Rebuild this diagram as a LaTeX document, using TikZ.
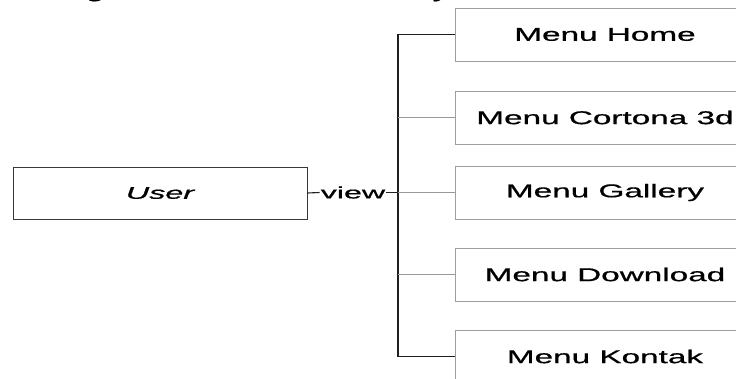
\documentclass[tikz,border=0pt]{standalone}
\usepackage{fontspec}
\setmainfont[FakeBold=0.6]{Liberation Sans}
\newfontfamily\heavyfont[FakeBold=0.6]{Liberation Sans}
\newcommand{\wide}[2][1.8]{\scalebox{#1}[1]{\heavyfont\addfontfeatures{FakeBold=0.6}#2}}
\tikzset{
  menubox/.style={draw=black!38, line width=1pt, fill=white,
    minimum width=300pt, minimum height=53pt, inner sep=0pt,
    font=\fontsize{18.5}{21}\selectfont},
  userbox/.style={draw=black!78, line width=1pt,
    minimum width=294pt, minimum height=52pt, inner sep=0pt,
    font=\fontsize{17}{20}\selectfont},
  lbl/.style={inner sep=1pt, font=\fontsize{16.5}{19}\selectfont},
  mainline/.style={draw=black!88, line width=1.1pt},
  subline/.style={draw=black!40, line width=0.9pt},
  captail/.style={anchor=base, inner sep=0pt, font=\fontsize{18.5}{21}\selectfont}
}
\begin{document}
\begin{tikzpicture}[x=1pt, y=-1pt]
\useasboundingbox (0,0) rectangle (736,378);
\fill[white] (0,0) rectangle (736,378);

% tails of the caption line above the diagram
\node[captail] (capg) at (95,-2.5) {\wide{g}};
\node[captail] (capy) at (441,-2.5) {\wide{y}};

% actor and its label
\node[userbox] (user) at (160,193) {\wide[1.9]{\itshape User}};
\node[lbl] (view) at (353,192.5) {\wide[1.95]{view}};
\coordinate (J) at (398,192.5);

% menu pages
\node[menubox] (home)     at (605,34.5)  {\wide{Menu Home}};
\node[menubox] (cortona)  at (605,117.5) {\wide{Menu Cortona 3d}};
\node[menubox] (gallery)  at (605,192.5) {\wide{Menu Gallery}};
\node[menubox] (download) at (605,274.5) {\wide{Menu Download}};
\node[menubox] (kontak)   at (605,356.5) {\wide{Menu Kontak}};

% connectors
\draw[mainline] (user.east) -- (view.west);
\draw[mainline] (view.east) -- (J);
\draw[mainline] (home.west) -- (home.west -| J) -- (kontak.west -| J) -- (kontak.west);
\draw[subline] (J) -- (gallery.west);
\draw[subline] (cortona.west -| J) -- (cortona.west);
\draw[subline] (download.west -| J) -- (download.west);
\end{tikzpicture}
\end{document}
